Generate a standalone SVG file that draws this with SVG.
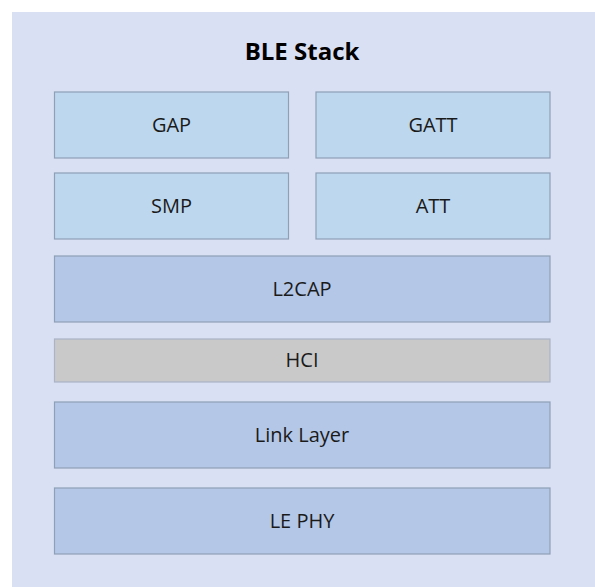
<svg xmlns="http://www.w3.org/2000/svg" width="595" height="587" viewBox="0 0 595 587">
<style>
.box{stroke:#8e9fb6;stroke-width:1.2}
.l1{fill:#bdd7ee}
.l2{fill:#b4c7e7}
.gr{fill:#c9c9c9;stroke:#aab4c6}
text{font-family:"Open Sans","Liberation Sans",sans-serif;font-size:20px;fill:#1a1a1a;text-anchor:middle}
.title{font-weight:bold;font-size:24px;fill:#000}
</style>
<rect x="0" y="0" width="595" height="587" fill="#ffffff"/>
<g id="ble-stack">
<rect x="12" y="12" width="583" height="575" fill="#dae0f3"/>
<text class="title" x="302" y="60">BLE Stack</text>
</g>
<g id="gap"><rect class="box l1" x="54.5" y="92" width="234" height="66"/><text x="171.5" y="132">GAP</text></g>
<g id="gatt"><rect class="box l1" x="316" y="92" width="234" height="66"/><text x="433" y="132">GATT</text></g>
<g id="smp"><rect class="box l1" x="54.5" y="173" width="234" height="66"/><text x="171.5" y="213">SMP</text></g>
<g id="att"><rect class="box l1" x="316" y="173" width="234" height="66"/><text x="433" y="213">ATT</text></g>
<g id="l2cap"><rect class="box l2" x="54.5" y="256" width="495.5" height="66"/><text x="302" y="296">L2CAP</text></g>
<g id="hci"><rect class="box gr" x="54.5" y="339" width="495.5" height="43"/><text x="302" y="367">HCI</text></g>
<g id="link-layer"><rect class="box l2" x="54.5" y="402" width="495.5" height="66"/><text x="302" y="442">Link Layer</text></g>
<g id="le-phy"><rect class="box l2" x="54.5" y="488" width="495.5" height="66"/><text x="302" y="528">LE PHY</text></g>
<g id="connectors"></g>
</svg>
